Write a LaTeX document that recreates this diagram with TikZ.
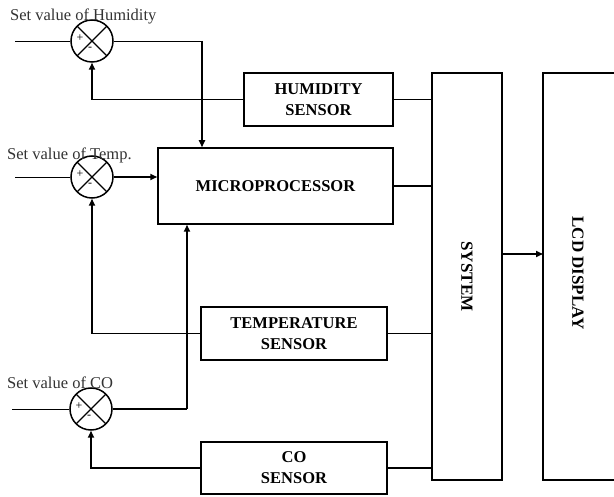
\documentclass[tikz,border=0pt]{standalone}
\usepackage{fontspec}
\setmainfont{Liberation Serif}
\usetikzlibrary{arrows.meta}

\begin{document}
\begin{tikzpicture}[x=1pt,y=-1pt,
  block/.style={draw,line width=1.5pt,inner sep=0pt,align=center,font=\fontsize{16.5}{21}\selectfont\bfseries},
  sumjn/.style={draw,circle,line width=1.5pt,minimum size=42pt,inner sep=0pt,
    path picture={\draw[line width=1.3pt] (path picture bounding box.north west) -- (path picture bounding box.south east)
      (path picture bounding box.north east) -- (path picture bounding box.south west);}},
  setlbl/.style={anchor=west,inner sep=0pt,text=black!80,font=\fontsize{16.5}{18}\selectfont},
  sgn/.style={inner sep=0pt,font=\fontsize{12}{12}\selectfont},
  sig/.style={line width=0.8pt},
  fb/.style={line width=1.6pt},
  arr/.style={-{Triangle[length=7pt,width=6pt]}}]
  \useasboundingbox (0,0) rectangle (614,497);
  \clip (0,0) rectangle (614,497);

  \node[sumjn] (hj) at (92,41) {};
  \node[sumjn] (tj) at (92,177) {};
  \node[sumjn] (cj) at (91,409) {};
  \foreach \j in {hj,tj,cj} {
    \node[sgn] at ([shift={(-12,-3)}]\j.center) {+};
    \node[sgn] at ([shift={(-2,8)}]\j.center) {-};
  }
  \node[setlbl] (hset) at (10,16) {Set value of Humidity};
  \node[setlbl] (tset) at (7,155) {Set value of Temp.};
  \node[setlbl] (cset) at (7,383) {Set value of CO};

  \node[block,minimum width=149pt,minimum height=53pt] (hsens) at (318.5,99.5) {HUMIDITY\\SENSOR};
  \node[block,minimum width=235pt,minimum height=76pt] (micro) at (275.5,186) {MICROPROCESSOR};
  \node[block,minimum width=186pt,minimum height=53pt] (tsens) at (294,333.5) {TEMPERATURE\\SENSOR};
  \node[block,minimum width=186pt,minimum height=52pt] (csens) at (294,468) {CO\\SENSOR};
  \node[block,minimum width=70pt,minimum height=407pt] (sys) at (467,276.5) {};
  \node[rotate=-90,font=\fontsize{17}{18}\selectfont\bfseries] at (sys.center) {SYSTEM};
  \node[block,minimum width=85pt,minimum height=407pt] (lcd) at (585.5,276.5) {};
  \node[rotate=-90,font=\fontsize{17}{18}\selectfont\bfseries] at (578,273) {LCD DISPLAY};

  \coordinate (hin) at (15,41);
  \coordinate (tin) at (15,177);
  \coordinate (cin) at (12,409);
  \coordinate (hturn) at (202,41);
  \coordinate (cturn) at (187,409);
  \coordinate (lcdin) at (543,254);

  \draw[sig] (hin) -- (hj.west);
  \draw[sig] (tin) -- (tj.west);
  \draw[sig] (cin) -- (cj.west);

  \draw[sig] (hj.east) -- (hturn);
  \draw[fb,arr] (hturn) -- (hturn |- micro.north);
  \draw[fb,arr] (tj.east) -- (tj.east -| micro.west);
  \draw[fb] (cj.east) -- (cturn);
  \draw[fb,arr] (cturn) -- (cturn |- micro.south);

  \draw[fb,arr] (hsens.west) -| (hj.south);
  \draw[fb,arr] (tsens.west) -| (tj.south);
  \draw[fb,arr] (csens.west) -| (cj.south);

  \draw[sig] (hsens.east) -- (hsens.east -| sys.west);
  \draw[fb] (micro.east) -- (micro.east -| sys.west);
  \draw[fb] (tsens.east) -- (tsens.east -| sys.west);
  \draw[fb] (csens.east) -- (csens.east -| sys.west);
  \draw[fb,arr] (lcdin -| sys.east) -- (lcdin);
\end{tikzpicture}
\end{document}
